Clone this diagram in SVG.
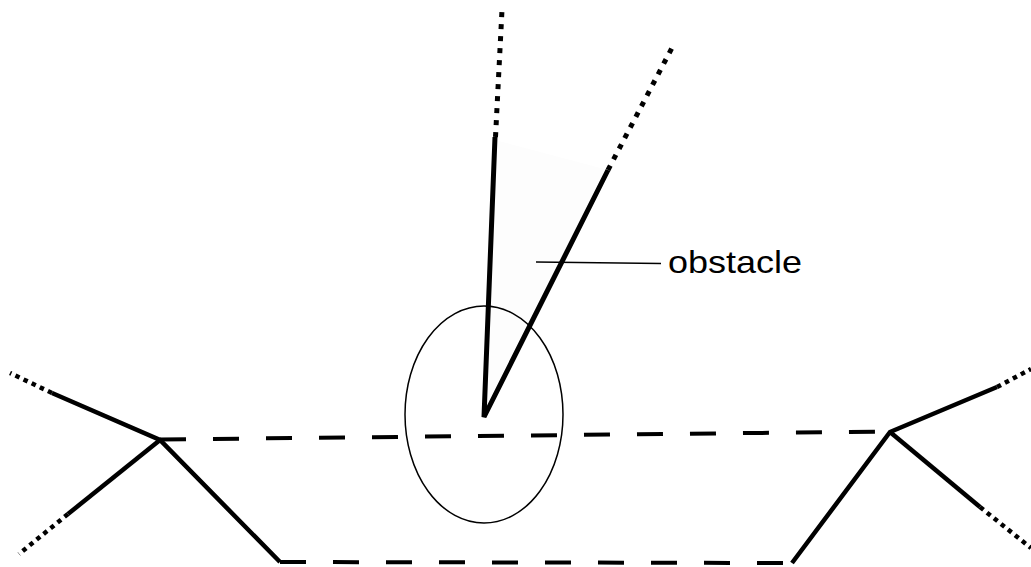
<svg xmlns="http://www.w3.org/2000/svg" width="1031" height="567" viewBox="0 0 1031 567">
<style>
.solid{fill:none;stroke:#000;stroke-width:4.5;stroke-linecap:butt;stroke-linejoin:miter}
.dash{fill:none;stroke:#000;stroke-width:4;stroke-dasharray:26 27}
.dot{fill:none;stroke:#000;stroke-width:4.5;stroke-dasharray:4.5 4.5}
.dotv{fill:none;stroke:#000;stroke-width:5;stroke-dasharray:5 7}
.thin{fill:none;stroke:#000;stroke-width:1.5}
.label{font-family:"Liberation Sans",Arial,sans-serif;font-size:32px;fill:#000}
</style>
<rect width="1031" height="567" fill="#fff"/>
<g id="connectors">
  <path class="dash" d="M160 439.5 L890 431.5"/>
  <path class="dash" d="M280 562 L792 563"/>
  <path class="solid" d="M280 562 L160 440 L52 393"/>
  <path class="solid" d="M160 440 L68 514"/>
  <path class="dot" d="M52 393 L10 373"/>
  <path class="dot" d="M68 514 L19 554"/>
  <path class="solid" d="M792 563 L890 432 L997 387"/>
  <path class="solid" d="M890 432 L980 507"/>
  <path class="dot" d="M997 387 L1031 369"/>
  <path class="dot" d="M980 507 L1031 548"/>
</g>
<g id="obstacle">
  <polygon points="484,415 495,140 608,170" fill="#fdfdfd"/>
  <ellipse class="thin" cx="484" cy="414.5" rx="79" ry="108.5"/>
  <path class="solid" d="M495 137 L484 417 L608 170" style="stroke-width:5"/>
  <path class="dotv" d="M495.5 137 L502 10"/>
  <path class="dotv" d="M608 170 L674 44"/>
  <path class="thin" d="M536 262 L661 263.5"/>
  <text class="label" x="668" y="273" textLength="134" lengthAdjust="spacingAndGlyphs">obstacle</text>
</g>
</svg>
